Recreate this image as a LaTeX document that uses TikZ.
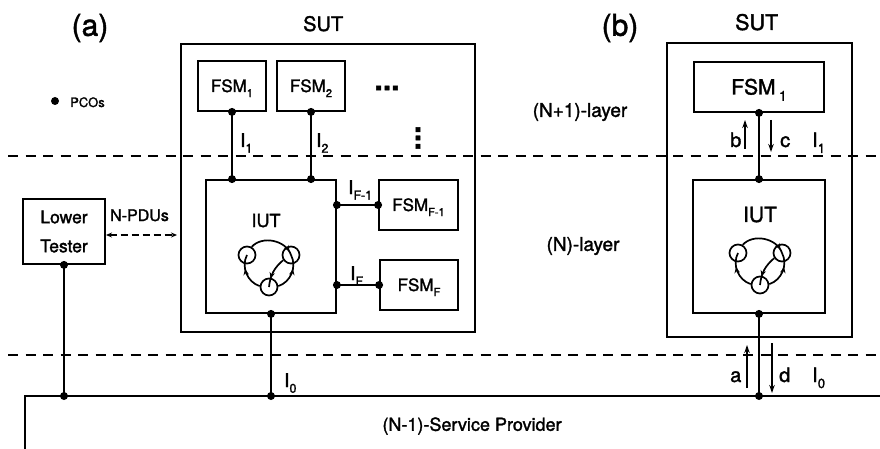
\documentclass[tikz,border=0pt]{standalone}
\usepackage{fontspec}
\setmainfont{TeX Gyre Heros}[FakeBold=1.6]
\usetikzlibrary{arrows.meta,decorations.markings}
\newcommand\fsz[1]{\fontsize{#1}{#1}\selectfont}
\newcommand\lsub[1]{\raisebox{-0.3em}{\scalebox{0.66}{#1}}}
\tikzset{
  box/.style={draw, rectangle, inner sep=0pt, line width=1.8pt},
  pco/.style={circle, fill=black, draw=none, inner sep=0pt, minimum size=8pt},
  txt/.style={inner sep=0pt, anchor=base west},
  ctr/.style={inner sep=0pt, anchor=base},
  wire/.style={line width=1.8pt},
  layerline/.style={line width=1.2pt, dash pattern=on 10pt off 7.5pt},
  stt/.style={circle, draw, line width=1.7pt, minimum size=17pt, inner sep=0pt},
  trn/.style={line width=1.7pt},
  mk/.style={postaction={decorate}, decoration={markings, mark=at position #1 with {\arrow{Stealth[length=6pt,width=5.5pt]}}}},
  sig/.style={line width=1.3pt, -{Stealth[length=8pt,width=5.5pt]}},
  pdu/.style={line width=1.3pt, dash pattern=on 7pt off 4pt, {Stealth[length=6pt,width=5pt]}-{Stealth[length=6pt,width=5pt]}},
  fsmgraph/.pic={
    \node[stt] (-l) at (-22,0) {};
    \node[stt] (-r) at (22,0) {};
    \node[stt] (-b) at (0,32) {};
    \draw[trn, mk=0.92] (-l) to[bend left=60] (-r);
    \draw[trn, mk=0.62] (-b) to[bend left=50] (-l);
    \draw[trn, mk=0.62] (-b) to[bend right=50] (-r);
    \draw[trn, mk=0.72] (-r) to[bend right=22] (-b);
  }
}
\begin{document}
\begin{tikzpicture}[x=1pt,y=-1pt]
\useasboundingbox (0,0) rectangle (880,449);
% layer boundaries
\draw[layerline] (8,156) -- (880,156);
\draw[layerline] (8,355) -- (880,355);

% titles
\node[font=\fsz{30}, inner sep=0pt] (ta) at (90,28) {(a)};
\node[font=\fsz{30}, inner sep=0pt] (tb) at (620,28) {(b)};

% legend
\node[pco] (legdot) at (55,101) {};
\node[txt, font=\fsz{13}] (legtxt) at (70,107) {PCOs};

% ---------- panel (a) ----------
\node[txt, font=\fsz{20}] (sutat) at (303,31) {SUT};
\node[box, minimum width=294pt, minimum height=288pt] (suta) at (328,188) {};
\node[box, minimum width=68pt, minimum height=50pt] (fsm1) at (232,86) {};
\node[box, minimum width=68pt, minimum height=50pt] (fsm2) at (311,86) {};
\node[box, minimum width=130pt, minimum height=133pt] (iuta) at (271,246.5) {};
\node[box, minimum width=79pt, minimum height=50pt] (fsmf1) at (418.5,205) {};
\node[box, minimum width=78pt, minimum height=50pt] (fsmf) at (419,285) {};
\node[box, minimum width=82pt, minimum height=65pt, align=center,
      font=\fontsize{17.5}{29}\selectfont] (lt) at (64,231.5) {Lower\\Tester};

\node[ctr, font=\fsz{17}, yshift=-6pt] (fsm1t) at (fsm1.center) {FSM\lsub{1}};
\node[ctr, font=\fsz{17}, yshift=-6pt] (fsm2t) at (fsm2.center) {FSM\lsub{2}};
\node[ctr, font=\fsz{17}, yshift=-6pt] (fsmf1t) at (fsmf1.center) {FSM\lsub{F-1}};
\node[ctr, font=\fsz{17}, yshift=-6pt] (fsmft) at (fsmf.center) {FSM\lsub{F}};
\node[ctr, font=\fsz{18}] (iutat) at (266,227) {IUT};
\pic (sma) at (269,255) {fsmgraph};

\node[font=\bfseries\fsz{30}, inner sep=0pt] (hdots) at (387,88) {...};
\node[font=\bfseries\fsz{30}, inner sep=0pt, rotate=90] (vdots) at (418,138) {...};

% labels of interfaces (a)
\node[txt, font=\fsz{19}] (i1) at (240,147) {I\lsub{1}};
\node[txt, font=\fsz{19}] (i2) at (316,147) {I\lsub{2}};
\node[txt, font=\fsz{19}] (if1) at (348,194) {I\lsub{F-1}};
\node[txt, font=\fsz{19}] (iff) at (350,280) {I\lsub{F}};
\node[txt, font=\fsz{19}] (i0a) at (284,387) {I\lsub{0}};

\node[txt, font=\fsz{16}] (npdu) at (110,221) {N-PDUs};
\coordinate (pduL) at (106,235);
\coordinate (pduR) at (177,235);
\draw[pdu] (pduL) -- (pduR);

% service provider line
\coordinate (spB) at (25,449);
\coordinate (spL) at (25,396);
\coordinate (spR) at (880,396);
\draw[wire] (spB) -- (spL) -- (spR);
\node[font=\fsz{18}, inner sep=0pt] (sptxt) at (472,426) {(N-1)-Service Provider};

% connectors (a)
\coordinate (d1) at (fsm1.south);
\coordinate (d1b) at (fsm1.south |- iuta.north);
\coordinate (d2) at (fsm2.south);
\coordinate (d2b) at (fsm2.south |- iuta.north);
\coordinate (d3) at (fsmf1.west);
\coordinate (d3b) at (iuta.east |- fsmf1.west);
\coordinate (d4) at (fsmf.west);
\coordinate (d4b) at (iuta.east |- fsmf.west);
\coordinate (d5) at (iuta.south);
\coordinate (d5b) at (iuta.south |- spL);
\coordinate (d6) at (lt.south);
\coordinate (d6b) at (lt.south |- spL);
\draw[wire] (d1) -- (d1b);
\draw[wire] (d2) -- (d2b);
\draw[wire] (d3b) -- (d3);
\draw[wire] (d4b) -- (d4);
\draw[wire] (d5) -- (d5b);
\draw[wire] (d6) -- (d6b);

% ---------- panel (b) ----------
\node[txt, font=\fsz{21.5}] (sutbt) at (735,30) {SUT};
\node[box, minimum width=185pt, minimum height=294pt] (sutb) at (759.5,190) {};
\node[box, minimum width=130pt, minimum height=50pt] (fsm1b) at (759,87) {};
\node[box, minimum width=132pt, minimum height=133pt] (iutb) at (759,246.5) {};
\node[ctr, font=\fsz{21}, yshift=-7.5pt] (fsm1bt) at (fsm1b.center) {FSM\,\lsub{1}};
\node[ctr, font=\fsz{21}] (iutbt) at (760,222) {IUT};
\pic (smb) at (760,253) {fsmgraph};

\node[font=\fsz{19}, inner sep=0pt] (lay1) at (580,112) {(N+1)-layer};
\node[font=\fsz{19}, inner sep=0pt] (lay0) at (583,246) {(N)-layer};

\coordinate (e1) at (fsm1b.south);
\coordinate (e1b) at (fsm1b.south |- iutb.north);
\coordinate (e2) at (iutb.south);
\coordinate (e2b) at (iutb.south |- spL);
\draw[wire] (e1) -- (e1b);
\draw[wire] (e2) -- (e2b);

% signal arrows
\coordinate (bS) at (745,149); \coordinate (bE) at (745,120);
\coordinate (cS) at (771,120); \coordinate (cE) at (771,152);
\coordinate (aS) at (747,388); \coordinate (aE) at (747,345);
\coordinate (dS) at (772,343); \coordinate (dE) at (772,393);
\draw[sig] (bS) -- (bE);
\draw[sig] (cS) -- (cE);
\draw[sig] (aS) -- (aE);
\draw[sig] (dS) -- (dE);
\node[txt, font=\fsz{20}] (lb) at (730,147) {b};
\node[txt, font=\fsz{20}] (lc) at (780,147) {c};
\node[txt, font=\fsz{20}] (li1b) at (812,147) {I\lsub{1}};
\node[txt, font=\fsz{20}] (la) at (730,382) {a};
\node[txt, font=\fsz{20}] (ld) at (779,382) {d};
\node[txt, font=\fsz{20}] (li0b) at (812,382) {I\lsub{0}};

% PCO dots
\foreach \c in {d1,d1b,d2,d2b,d3,d3b,d4,d4b,d5,d5b,d6,d6b,e1,e1b,e2,e2b}
  \fill (\c) circle (4pt);
\end{tikzpicture}
\end{document}
